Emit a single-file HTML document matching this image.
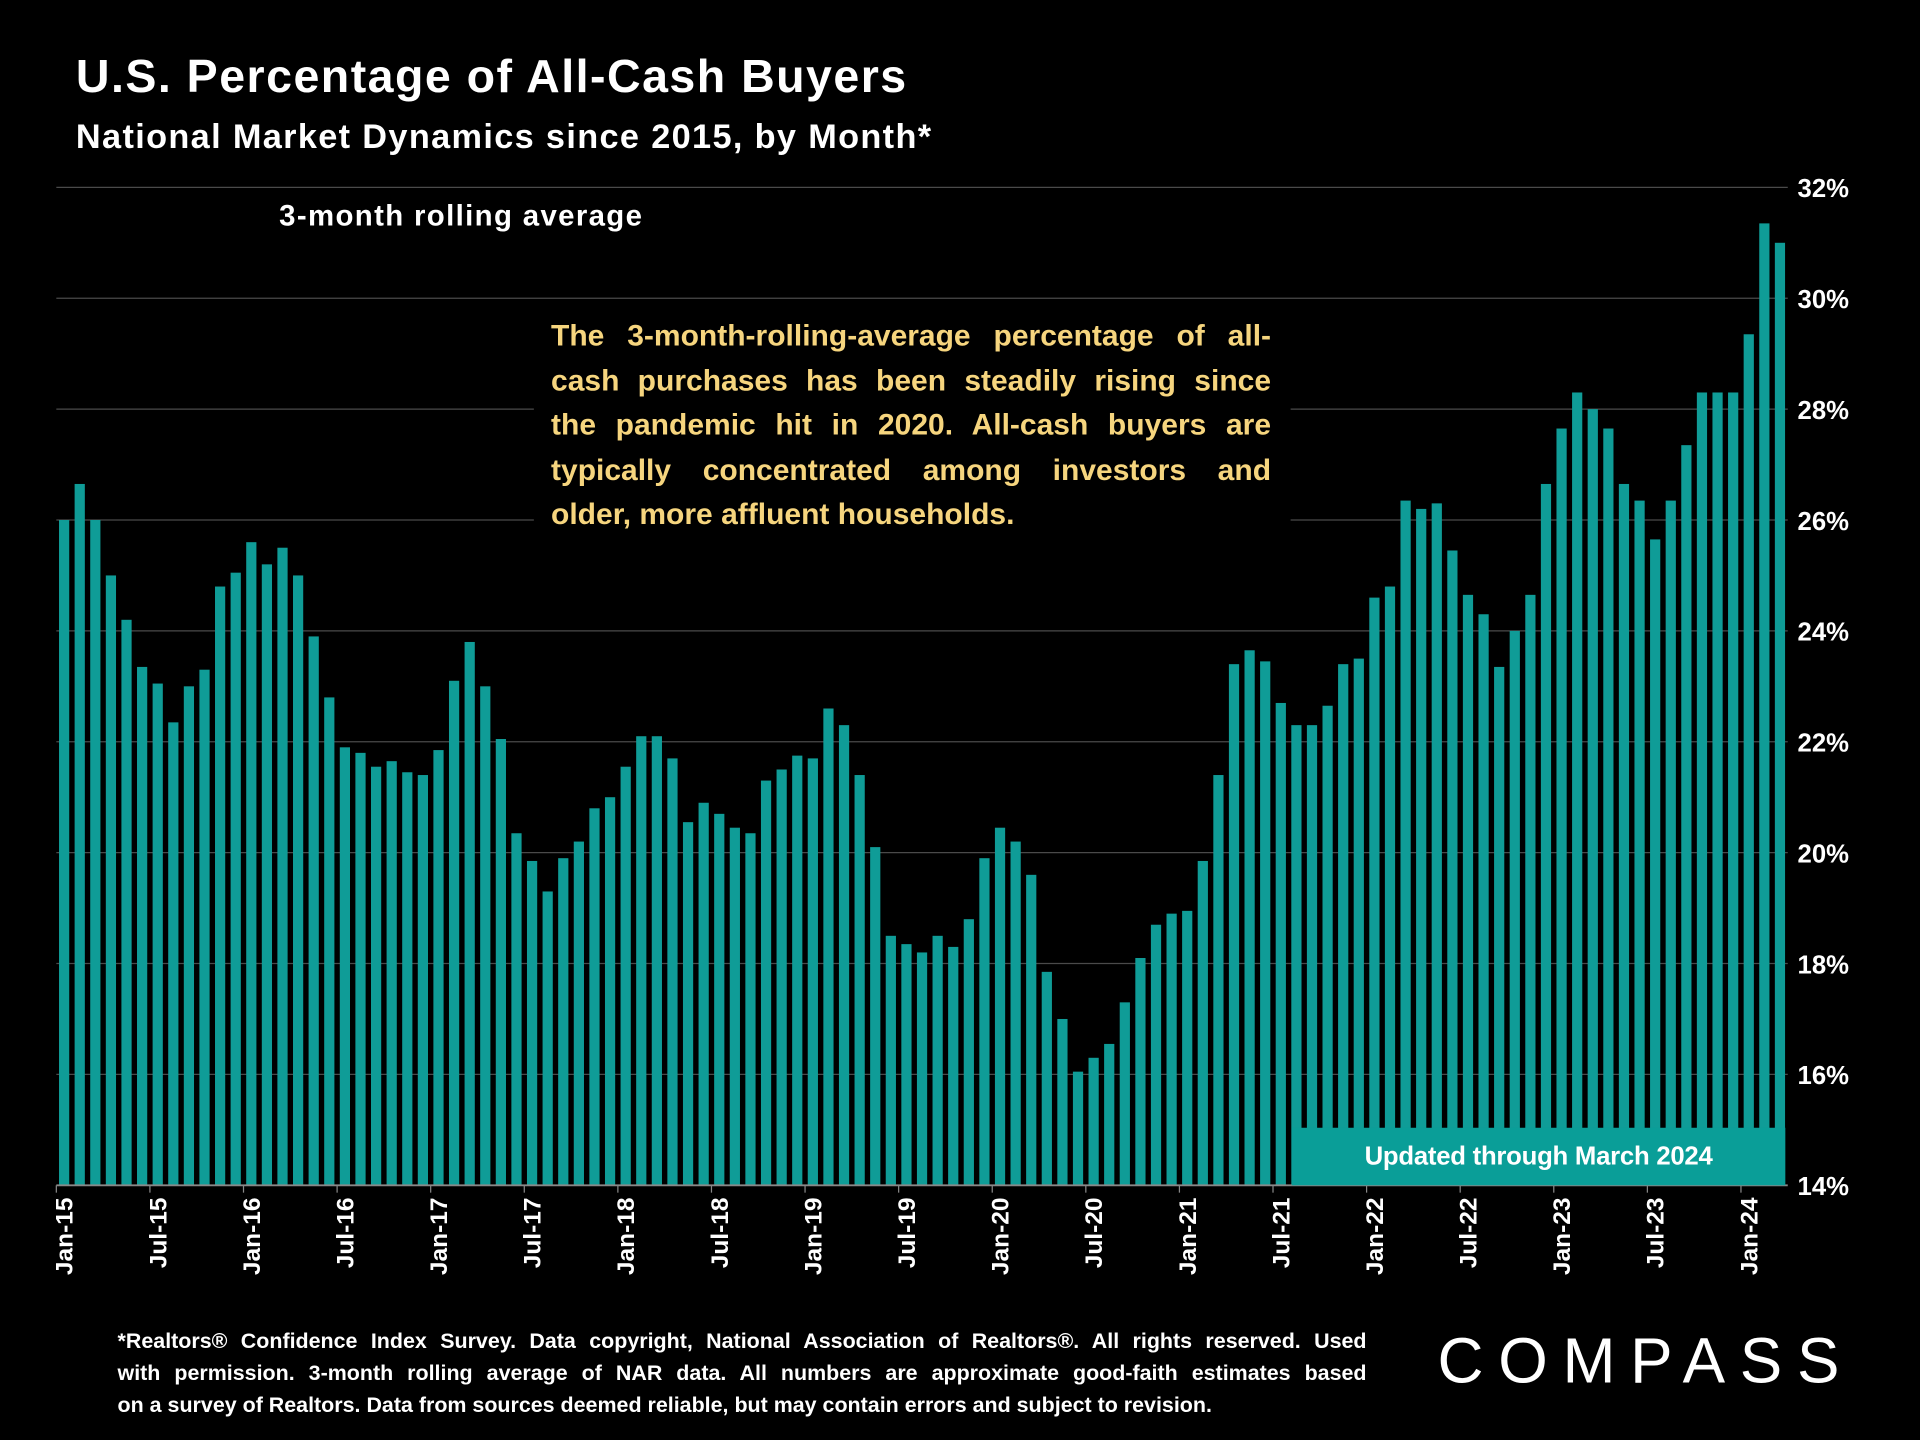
<!DOCTYPE html>
<html><head><meta charset="utf-8"><style>
html,body{margin:0;padding:0;background:#000;width:1920px;height:1440px;overflow:hidden}
#wrap{position:absolute;left:0;top:0;width:1568px;height:1176px;transform:scale(1.2244898);transform-origin:0 0;font-family:"Liberation Sans",sans-serif;color:#fff}
.abs{position:absolute}
.jl{display:block;white-space:nowrap;text-align:justify;text-align-last:justify}
.ll{display:block;white-space:nowrap}
</style></head><body>
<div id="wrap">
<div class="abs" style="left:62px;top:42px;font-size:38px;font-weight:bold;letter-spacing:1.2px">U.S. Percentage of All-Cash Buyers</div>
<div class="abs" style="left:62px;top:96px;font-size:28px;font-weight:bold;letter-spacing:1.1px">National Market Dynamics since 2015, by Month*</div>
<svg class="abs" id="chart" style="left:0;top:0" width="1568" height="1176"></svg>
<div class="abs" style="left:228px;top:163px;font-size:24px;font-weight:bold;letter-spacing:1.1px">3-month rolling average</div>
<div class="abs" style="left:436px;top:255px;width:618px;height:185px;background:#000"></div>
<div class="abs" style="left:450px;top:257px;width:588px;font-size:24.5px;font-weight:bold;line-height:36.5px;color:#f6d57e;letter-spacing:0px">
<span class="jl">The 3-month-rolling-average percentage of all-</span>
<span class="jl">cash purchases has been steadily rising since</span>
<span class="jl">the pandemic hit in 2020. All-cash buyers are</span>
<span class="jl">typically concentrated among investors and</span>
<span class="ll">older, more affluent households.</span>
</div>
<div class="abs" style="left:1055px;top:921px;width:403px;height:47px;background:#0a9e98;font-size:21px;font-weight:bold;line-height:47px;text-align:center;letter-spacing:-0.2px">Updated through March 2024</div>
<div class="abs" style="left:96px;top:1082px;width:1020px;font-size:17.5px;font-weight:bold;line-height:26px;letter-spacing:0px">
<span class="jl">*Realtors® Confidence Index Survey. Data copyright, National Association of Realtors®. All rights reserved. Used</span>
<span class="jl">with permission. 3-month rolling average of NAR data. All numbers are approximate good-faith estimates based</span>
<span class="ll">on a survey of Realtors. Data from sources deemed reliable, but may contain errors and subject to revision.</span>
</div>
<div class="abs" style="left:1174px;top:1082px;font-size:52px;letter-spacing:12px;font-weight:normal">COMPASS</div>
</div>
<script>
const values=[26.0,26.65,26.0,25.0,24.2,23.35,23.05,22.35,23.0,23.3,24.8,25.05,
25.6,25.2,25.5,25.0,23.9,22.8,21.9,21.8,21.55,21.65,21.45,21.4,
21.85,23.1,23.8,23.0,22.05,20.35,19.85,19.3,19.9,20.2,20.8,21.0,
21.55,22.1,22.1,21.7,20.55,20.9,20.7,20.45,20.35,21.3,21.5,21.75,
21.7,22.6,22.3,21.4,20.1,18.5,18.35,18.2,18.5,18.3,18.8,19.9,
20.45,20.2,19.6,17.85,17.0,16.05,16.3,16.55,17.3,18.1,18.7,18.9,
18.95,19.85,21.4,23.4,23.65,23.45,22.7,22.3,22.3,22.65,23.4,23.5,
24.6,24.8,26.35,26.2,26.3,25.45,24.65,24.3,23.35,24.0,24.65,26.65,
27.65,28.3,28.0,27.65,26.65,26.35,25.65,26.35,27.35,28.3,28.3,28.3,
29.35,31.35,31.0];
const yTicks=[14,16,18,20,22,24,26,28,30,32];
const monthNames=["Jan","Jul"];
const startYear=15;
const NS="http://www.w3.org/2000/svg";
const svg=document.getElementById('chart');
const L=46,R=1460,T=153,B=968,yMin=14,yMax=32;
const y=v=>B-(v-yMin)/(yMax-yMin)*(B-T);
const band=(R-L)/values.length;
const x=i=>L+i*band;
function mk(t,a){const e=document.createElementNS(NS,t);for(const k in a)e.setAttribute(k,a[k]);svg.appendChild(e);return e;}
yTicks.forEach(t=>{
  if(t>yMin){const g=mk('line',{x1:L,x2:R,y1:y(t),y2:y(t),stroke:'#4a4a4a','stroke-width':1});
  
  }
  const tx=mk('text',{x:1468,y:y(t)+8,fill:'#fff','font-size':21,'font-weight':'bold','font-family':'Liberation Sans, sans-serif'});
  tx.textContent=t+'%';
  
  
});
values.forEach((v,i)=>{
  const r=mk('rect',{x:x(i)+2.2,y:y(v),width:band-4.4,height:B-y(v),fill:'#0f9c97'});
  
  
});
const ax=mk('line',{x1:L,x2:R,y1:B,y2:B,stroke:'#888','stroke-width':1.5});


for(let i=0;i<values.length;i+=6){
  const cx=x(i)+band/2;
  const lbl=monthNames[(i/6)%2]+'-'+(startYear+Math.floor(i/12));
  const tk=mk('line',{x1:x(i),x2:x(i),y1:B,y2:B+6,stroke:'#888'});
  
  
  const t=mk('text',{x:0,y:0,fill:'#fff','font-size':20,'font-weight':'bold','font-family':'Liberation Sans, sans-serif','text-anchor':'end',transform:`translate(${cx+7},${B+10}) rotate(-90)`});
  t.textContent=lbl;
  
  
}
</script>
</body></html>
